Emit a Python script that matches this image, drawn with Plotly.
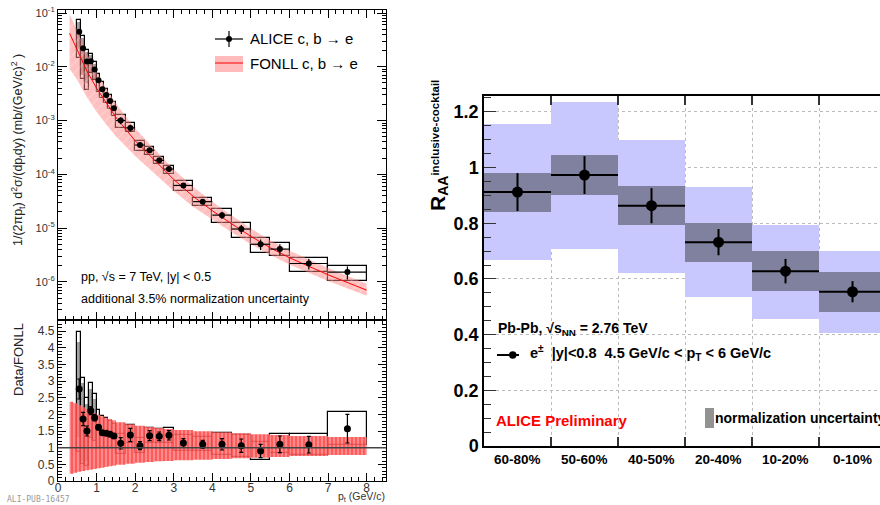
import plotly.graph_objects as go

W, H = 880, 505

# ---------------- Data: pp spectrum (left panels) ----------------
pt_center = [0.55, 0.65, 0.75, 0.85, 0.95, 1.05, 1.15, 1.25, 1.35, 1.45,
             1.625, 1.875, 2.125, 2.375, 2.625, 2.875,
             3.25, 3.75, 4.25, 4.75, 5.25, 5.75, 6.5, 7.5]
pt_width = [0.1, 0.1, 0.1, 0.1, 0.1, 0.1, 0.1, 0.1, 0.1, 0.1,
            0.25, 0.25, 0.25, 0.25, 0.25, 0.25,
            0.5, 0.5, 0.5, 0.5, 0.5, 0.5, 1.0, 1.0]
spectrum = [0.045, 0.022, 0.0125, 0.0127, 0.0089, 0.0056, 0.0038, 0.0030, 0.0023, 0.0017,
            0.0010, 0.00073, 0.00035, 0.00028, 0.000182, 0.000125,
            6.2e-5, 3.1e-5, 1.74e-5, 9.6e-6, 5.0e-6, 4.06e-6, 2.19e-6, 1.52e-6]
ratio = [2.76, 1.86, 1.50, 2.11, 1.90, 1.61, 1.45, 1.43, 1.40, 1.35,
         1.13, 1.38, 1.06, 1.36, 1.34, 1.37,
         1.14, 1.10, 1.10, 1.06, 0.90, 1.10, 1.09, 1.57]
ratio_stat = [0.30, 0.20, 0.15, 0.12, 0.10, 0.08, 0.06, 0.06, 0.06, 0.06,
              0.17, 0.20, 0.12, 0.15, 0.13, 0.14,
              0.13, 0.12, 0.17, 0.20, 0.20, 0.25, 0.25, 0.43]
ratio_sys_hi = [4.48, 3.10, 2.49, 2.93, 2.60, 2.13, 1.96, 1.88, 1.81, 1.72,
                1.41, 1.67, 1.28, 1.58, 1.55, 1.58,
                1.38, 1.31, 1.45, 1.37, 1.16, 1.41, 1.40, 2.06]
ratio_sys_lo = [0.88, 0.51, 0.45, 1.30, 1.20, 0.98, 1.00, 1.00, 1.00, 0.98,
                0.81, 1.15, 0.83, 1.13, 1.15, 1.13,
                0.90, 0.91, 0.78, 0.73, 0.63, 0.83, 0.77, 1.08]
# extra (gray filled) uncertainty boxes of the lowest bins
low_pt_center = [0.55, 0.65, 0.75, 0.85, 0.95]
low_ratio_hi = [4.18, 2.95, 2.30, 2.75, 2.45]
low_ratio_lo = [1.33, 0.60, 0.60, 1.30, 1.20]

# FONLL prediction
fonll_pt = [0.3, 0.5, 0.75, 1.0, 1.25, 1.5, 2.0, 2.5, 3.0, 3.5, 4.0, 4.5, 5.0, 5.5, 6.0, 7.0, 8.0]
fonll_central = [0.042, 0.021, 0.0083, 0.0040, 0.0021, 0.00115, 0.00042, 0.00018, 8.0e-5,
                 3.9e-5, 2.1e-5, 1.2e-5, 7.0e-6, 4.3e-6, 2.8e-6, 1.35e-6, 7.0e-7]
fonll_up = [0.095, 0.047, 0.0178, 0.0080, 0.0040, 0.0021, 0.00071, 0.00029, 1.23e-4,
            5.85e-5, 3.1e-5, 1.72e-5, 9.8e-6, 5.95e-6, 3.8e-6, 1.8e-6, 9.2e-7]
fonll_dn = [0.0093, 0.0057, 0.0027, 0.00145, 0.00084, 0.00051, 0.00022, 0.000105, 4.9e-5,
            2.5e-5, 1.43e-5, 8.4e-6, 5.0e-6, 3.15e-6, 2.1e-6, 1.04e-6, 5.5e-7]
# FONLL band in the ratio panel (per bin)
band_edges = [0.3, 0.4, 0.5, 0.6, 0.7, 0.8, 0.9, 1.0, 1.1, 1.2, 1.3, 1.4, 1.5,
              1.75, 2.0, 2.25, 2.5, 2.75, 3.0, 3.5, 4.0, 4.5, 5.0, 5.5, 6.0, 7.0, 8.0]
band_hi = [2.38, 2.33, 2.27, 2.21, 2.15, 2.09, 2.04, 1.99, 1.94, 1.90, 1.86, 1.82,
           1.76, 1.70, 1.66, 1.62, 1.59, 1.56,
           1.53, 1.49, 1.46, 1.43, 1.40, 1.38, 1.35, 1.32]
band_lo = [0.22, 0.25, 0.28, 0.30, 0.32, 0.34, 0.36, 0.38, 0.40, 0.42, 0.44, 0.46,
           0.49, 0.52, 0.55, 0.57, 0.59, 0.60,
           0.62, 0.64, 0.66, 0.68, 0.70, 0.72, 0.75, 0.78]

# ---------------- Data: Pb-Pb RAA (right panel) ----------------
cent_labels = ["60-80%", "50-60%", "40-50%", "20-40%", "10-20%", "0-10%"]
cent_pos = [0.5, 1.5, 2.5, 3.5, 4.5, 5.5]
raa = [0.912, 0.973, 0.863, 0.732, 0.628, 0.554]
raa_stat = [0.068, 0.068, 0.063, 0.047, 0.044, 0.038]
raa_sys_lo = [0.839, 0.902, 0.792, 0.661, 0.557, 0.482]
raa_sys_hi = [0.981, 1.045, 0.935, 0.802, 0.699, 0.624]
raa_blue_lo = [0.667, 0.708, 0.623, 0.536, 0.457, 0.407]
raa_blue_hi = [1.156, 1.236, 1.099, 0.931, 0.795, 0.699]

# ---------------- derived ----------------
spec_sys_hi = [s * h / r for s, h, r in zip(spectrum, ratio_sys_hi, ratio)]
spec_sys_lo = [s * l / r for s, l, r in zip(spectrum, ratio_sys_lo, ratio)]
spec_stat = [s * e / r for s, e, r in zip(spectrum, ratio_stat, ratio)]
low_spec = spectrum[:5]
low_ratio = ratio[:5]
low_spec_hi = [s * h / r for s, h, r in zip(low_spec, low_ratio_hi, low_ratio)]
low_spec_lo = [s * l / r for s, l, r in zip(low_spec, low_ratio_lo, low_ratio)]

FONT = "Liberation Sans, Arial, Helvetica, sans-serif"

fig = go.Figure()

# ---- top-left: FONLL band + line ----
fig.add_trace(go.Scatter(x=fonll_pt, y=fonll_up, mode="lines", line=dict(width=0),
                         xaxis="x", yaxis="y", showlegend=False, hoverinfo="skip"))
fig.add_trace(go.Scatter(x=fonll_pt, y=fonll_dn, mode="lines", line=dict(width=0),
                         fill="tonexty", fillcolor="rgba(255,120,120,0.45)",
                         fillpattern=dict(shape="/", fgcolor="rgba(255,255,255,0.6)",
                                          bgcolor="rgba(255,130,130,0.5)", size=7, solidity=0.15),
                         xaxis="x", yaxis="y", showlegend=False, hoverinfo="skip"))
fig.add_trace(go.Scatter(x=fonll_pt, y=fonll_central, mode="lines",
                         line=dict(color="rgb(255,0,0)", width=1),
                         xaxis="x", yaxis="y", showlegend=False))

# ---- top-left: boxes ----
fig.add_trace(go.Bar(x=low_pt_center, y=[h - l for h, l in zip(low_spec_hi, low_spec_lo)],
                     base=low_spec_lo, width=[0.09] * 5,
                     marker=dict(color="rgba(90,90,90,0.55)", line=dict(width=0)),
                     xaxis="x", yaxis="y", showlegend=False))
fig.add_trace(go.Bar(x=pt_center, y=[h - l for h, l in zip(spec_sys_hi, spec_sys_lo)],
                     base=spec_sys_lo, width=pt_width,
                     marker=dict(color="rgba(0,0,0,0)", line=dict(color="black", width=1.2)),
                     xaxis="x", yaxis="y", showlegend=False))
fig.add_trace(go.Scatter(x=pt_center, y=spectrum, mode="markers",
                         marker=dict(color="black", size=6),
                         error_y=dict(type="data", array=spec_stat, color="black", thickness=1.2, width=0),
                         error_x=dict(type="data", array=[w / 2 for w in pt_width], color="black",
                                      thickness=1.2, width=0),
                         xaxis="x", yaxis="y", showlegend=False))

# ---- ratio panel ----
band_x = band_edges
fig.add_trace(go.Scatter(x=band_x, y=band_hi + [band_hi[-1]], mode="lines", line=dict(width=0, shape="hv"),
                         xaxis="x2", yaxis="y2", showlegend=False, hoverinfo="skip"))
fig.add_trace(go.Scatter(x=band_x, y=band_lo + [band_lo[-1]], mode="lines", line=dict(width=0, shape="hv"),
                         fill="tonexty", fillcolor="rgba(255,90,90,0.8)",
                         fillpattern=dict(shape="|", fgcolor="rgb(255,30,30)", bgcolor="rgba(255,120,120,0.85)",
                                          size=4, solidity=0.45),
                         xaxis="x2", yaxis="y2", showlegend=False, hoverinfo="skip"))
fig.add_trace(go.Bar(x=low_pt_center, y=[h - l for h, l in zip(low_ratio_hi, low_ratio_lo)],
                     base=low_ratio_lo, width=[0.09] * 5,
                     marker=dict(color="rgba(90,90,90,0.55)", line=dict(width=0)),
                     xaxis="x2", yaxis="y2", showlegend=False))
fig.add_trace(go.Bar(x=pt_center, y=[h - l for h, l in zip(ratio_sys_hi, ratio_sys_lo)],
                     base=ratio_sys_lo, width=pt_width,
                     marker=dict(color="rgba(0,0,0,0)", line=dict(color="black", width=1.2)),
                     xaxis="x2", yaxis="y2", showlegend=False))
fig.add_trace(go.Scatter(x=pt_center, y=ratio, mode="markers",
                         marker=dict(color="black", size=7),
                         error_y=dict(type="data", array=ratio_stat, color="black", thickness=1.2, width=2),
                         xaxis="x2", yaxis="y2", showlegend=False))

# ---- right panel ----
fig.add_trace(go.Bar(x=cent_pos, y=[h - l for h, l in zip(raa_blue_hi, raa_blue_lo)],
                     base=raa_blue_lo, width=1.0,
                     marker=dict(color="rgb(200,200,255)", line=dict(width=0)),
                     xaxis="x3", yaxis="y3", showlegend=False))
fig.add_trace(go.Bar(x=cent_pos, y=[h - l for h, l in zip(raa_sys_hi, raa_sys_lo)],
                     base=raa_sys_lo, width=1.0,
                     marker=dict(color="rgba(70,70,80,0.55)", line=dict(width=0)),
                     xaxis="x3", yaxis="y3", showlegend=False))
fig.add_trace(go.Scatter(x=cent_pos, y=raa, mode="markers",
                         marker=dict(color="black", size=11),
                         error_y=dict(type="data", array=raa_stat, color="black", thickness=2, width=0),
                         error_x=dict(type="data", array=[0.5] * 6, color="black", thickness=2, width=0),
                         xaxis="x3", yaxis="y3", showlegend=False))

def px(xp):
    return xp / W

def py(yp):
    return 1 - yp / H

LX = [px(58), px(386)]
axis_common = dict(showline=True, linecolor="black", linewidth=1.2, ticks="inside",
                   tickcolor="black", zeroline=False, showgrid=False, automargin=False)

fig.update_layout(
    width=W, height=H, margin=dict(l=0, r=0, t=0, b=0),
    paper_bgcolor="white", plot_bgcolor="white", barmode="overlay", bargap=0,
    font=dict(family=FONT, color="black", size=12),
    xaxis=dict(domain=LX, range=[0, 8.5], anchor="y", tickvals=list(range(9)), showticklabels=False,
               mirror="allticks", ticklen=8,
               minor=dict(ticks="inside", dtick=0.2, ticklen=4, tickcolor="black"), **axis_common),
    yaxis=dict(domain=[py(320), py(10)], type="log", range=[-6.71, -0.944], anchor="x",
               tickvals=[1e-6, 1e-5, 1e-4, 1e-3, 1e-2, 1e-1],
               ticktext=["10<sup>-6</sup>", "10<sup>-5</sup>", "10<sup>-4</sup>", "10<sup>-3</sup>",
                         "10<sup>-2</sup>", "10<sup>-1</sup>"],
               tickfont=dict(size=11, color="#333"), mirror="allticks", ticklen=9,
               minor=dict(ticks="inside", dtick="D1", ticklen=4, tickcolor="black"), **axis_common),
    xaxis2=dict(domain=LX, range=[0, 8.5], anchor="y2", tickvals=list(range(9)),
                tickfont=dict(size=12, color="#333"), mirror="allticks", ticklen=8,
                ticklabelstandoff=-5,
                minor=dict(ticks="inside", dtick=0.2, ticklen=4, tickcolor="black"), **axis_common),
    yaxis2=dict(domain=[py(481), py(320)], range=[0, 4.83], anchor="x2",
                tickvals=[0, 0.5, 1, 1.5, 2, 2.5, 3, 3.5, 4, 4.5],
                ticktext=["0", "0.5", "1", "1.5", "2", "2.5", "3", "3.5", "4", "4.5"],
                tickfont=dict(size=12, color="#333"), mirror="allticks", ticklen=8,
                minor=dict(ticks="inside", dtick=0.1, ticklen=4, tickcolor="black"), **axis_common),
    xaxis3=dict(domain=[px(484), 1.0], range=[0, 5.91], anchor="y3", tickvals=list(range(7)),
                showticklabels=False, showline=True, linecolor="black", linewidth=1.5,
                ticks="inside", ticklen=9, tickwidth=1.5, tickcolor="#333", mirror="ticks", zeroline=False,
                showgrid=True, gridcolor="#bbbbbb", griddash="dot", gridwidth=1, automargin=False),
    yaxis3=dict(domain=[py(446), py(96)], range=[0, 1.257], anchor="x3",
                tickvals=[0, 0.2, 0.4, 0.6, 0.8, 1.0, 1.2],
                ticktext=["0", "0.2", "0.4", "0.6", "0.8", "1", "1.2"],
                tickfont=dict(size=18, family=FONT, weight="bold", color="black"),
                showline=True, linecolor="black", linewidth=1.5, ticks="inside", ticklen=12,
                tickwidth=1.2, tickcolor="#333", mirror=False, zeroline=False, automargin=False,
                showgrid=True, gridcolor="#bbbbbb", griddash="dot", gridwidth=1,
                minor=dict(ticks="inside", dtick=0.05, ticklen=7, tickcolor="#333", showgrid=False)),
)

shapes = [
    # reference line at 1 in ratio panel
    dict(type="line", xref="x2 domain", yref="y2", x0=0, x1=1, y0=1, y1=1,
         line=dict(color="#444", width=1.5)),
    # top-left legend symbols
    dict(type="line", xref="paper", yref="paper", x0=px(215), x1=px(243), y0=py(39), y1=py(39),
         line=dict(color="black", width=1.2)),
    dict(type="line", xref="paper", yref="paper", x0=px(229), x1=px(229), y0=py(31), y1=py(47),
         line=dict(color="black", width=1.2)),
    dict(type="circle", xref="paper", yref="paper", x0=px(226), x1=px(232), y0=py(36), y1=py(42),
         fillcolor="black", line=dict(color="black", width=0)),
    dict(type="rect", xref="paper", yref="paper", x0=px(215), x1=px(243), y0=py(72), y1=py(56),
         fillcolor="rgba(255,120,120,0.5)", line=dict(width=0)),
    dict(type="line", xref="paper", yref="paper", x0=px(215), x1=px(243), y0=py(63), y1=py(63),
         line=dict(color="rgb(255,0,0)", width=1)),
    # right legend marker
    dict(type="line", xref="paper", yref="paper", x0=px(497), x1=px(519), y0=py(355), y1=py(355),
         line=dict(color="black", width=2)),
    dict(type="circle", xref="paper", yref="paper", x0=px(509), x1=px(516.5), y0=py(351.3), y1=py(358.7),
         fillcolor="black", line=dict(width=0)),
    # normalization uncertainty swatch
    dict(type="rect", xref="paper", yref="paper", x0=px(705), x1=px(714), y0=py(428), y1=py(408),
         fillcolor="rgba(110,110,110,0.75)", line=dict(width=0)),
]
fig.update_layout(shapes=shapes)

ann = []
def add_text(x, y, text, size, xanchor="left", color="black", bold=False, angle=0, family=FONT):
    ann.append(dict(x=px(x), y=py(y), xref="paper", yref="paper", text=text, showarrow=False,
                    xanchor=xanchor, yanchor="middle", textangle=angle,
                    font=dict(size=size, color=color, family=family, weight="bold" if bold else "normal")))

add_text(248, 39, "ALICE c, b → e", 15)
add_text(248, 63, "FONLL c, b → e", 15)
add_text(79, 277, "pp, √s = 7 TeV, |y| < 0.5", 12.5)
add_text(79, 299, "additional 3.5% normalization uncertainty", 12.5)
ann.append(dict(x=px(18), y=py(150), xref="paper", yref="paper", showarrow=False, textangle=-90,
                text="1/(2πp<sub>t</sub>) d<sup>2</sup>σ/(dp<sub>t</sub>dy) (mb/(GeV/c)<sup>2</sup> )",
                font=dict(size=12.5, family=FONT, color="#222"), xanchor="center", yanchor="middle"))
ann.append(dict(x=px(18), y=py(360), xref="paper", yref="paper", showarrow=False, textangle=-90,
                text="Data/FONLL", font=dict(size=13, family=FONT, color="#222"),
                xanchor="center", yanchor="middle"))
add_text(387, 497, "p<sub>t</sub> (GeV/c)", 10.5, xanchor="right", color="#333")
add_text(5, 499, "ALI-PUB-16457", 8, color="#999", family="DejaVu Sans Mono, monospace")

# right panel
ann.append(dict(x=px(438), y=py(146), xref="paper", yref="paper", showarrow=False, textangle=-90,
                text="<span style='font-size:21px'>R</span><sub><span style='font-size:14px'>AA</span></sub>"
                     "<sup><span style='font-size:11.5px'>inclusive-cocktail</span></sup>",
                font=dict(size=15, family=FONT, weight="bold", color="black"),
                xanchor="center", yanchor="middle"))
add_text(496, 329, "Pb-Pb, √s<sub>NN</sub> = 2.76 TeV", 14, bold=True)
add_text(528, 353, "e<sup>±</sup>  |y|<0.8  4.5 GeV/c < p<sub>T</sub> < 6 GeV/c", 14.5, bold=True)
add_text(494, 420, "ALICE Preliminary", 15, color="rgb(255,0,0)", bold=True)
add_text(713, 418, "normalization uncertainty", 14, bold=True)
for cx, lab in zip(cent_pos, cent_labels):
    ann.append(dict(x=cx, y=py(459), xref="x3", yref="paper", text=lab, showarrow=False,
                    xanchor="center", yanchor="middle",
                    font=dict(size=13.5, family=FONT, weight="bold", color="black")))

fig.update_layout(annotations=ann)
fig.write_html("out.html", config={"displayModeBar": False},
               post_script="document.body.style.margin='0';document.body.style.overflow='hidden';")
